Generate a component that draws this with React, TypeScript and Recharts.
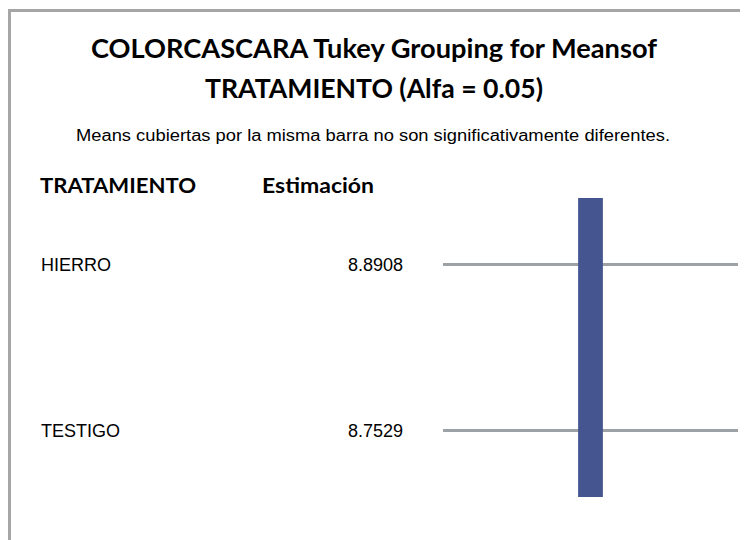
import React from "react";
import {
  ComposedChart,
  XAxis,
  YAxis,
  Line,
  ReferenceArea,
} from "recharts";

// Tukey grouping: treatments, their estimated means and the group letters
const treatments = ["HIERRO", "TESTIGO"];
const estimates = [8.8908, 8.7529];
const groups = [["HIERRO", "TESTIGO"]]; // one bar = one group of non-different means

const TITLE_1 = "COLORCASCARA Tukey Grouping for Meansof";
const TITLE_2 = "TRATAMIENTO (Alfa = 0.05)";
const SUBTITLE = "Means cubiertas por la misma barra no son significativamente diferentes.";
const HEAD_TRT = "TRATAMIENTO";
const HEAD_EST = "Estimación";

const W = 740;
const H = 532;
const ROW_PAD = 0.4; // how far the group bar reaches past its first / last row
const BAR_HALF = 0.042; // half width of the group bar, in x units

const rows = treatments.map((t, i) => ({ row: i, name: t, est: estimates[i] }));
// each row's rule runs across the whole plot (x from 0 to 1)
const ruleData = rows.map((r) => [
  { x: 0, row: r.row },
  { x: 1, row: r.row },
]);

const BOLD = "Lato, 'Open Sans', sans-serif";
const PLAIN = "'Liberation Sans', Arial, sans-serif";

function RowTick(props: any) {
  const { y, payload } = props;
  const r = rows[payload.value];
  if (!r) return null;
  return (
    <g>
      <text x={33} y={y} dy="0.35em" fontFamily={PLAIN} fontSize={18} fill="#000">
        {r.name}
      </text>
      <text x={395} y={y} dy="0.35em" textAnchor="end" fontFamily={PLAIN} fontSize={18} fill="#000">
        {r.est.toFixed(4)}
      </text>
    </g>
  );
}

export default function App() {
  return (
    <div style={{ position: "relative", width: W, height: H, background: "#fff" }}>
      <div
        style={{
          position: "absolute",
          left: 0,
          top: 1,
          width: W,
          height: H + 10,
          borderLeft: "3px solid #a6a6a6",
          borderTop: "3px solid #a6a6a6",
        }}
      />
      <ComposedChart
        width={W}
        height={H}
        data={rows}
        margin={{ top: 190, right: 10, bottom: 43, left: 0 }}
        style={{ position: "absolute", left: 0, top: 0 }}
      >
        <XAxis type="number" dataKey="x" domain={[0, 1]} hide allowDataOverflow />
        <YAxis
          type="number"
          dataKey="row"
          domain={[-ROW_PAD, treatments.length - 1 + ROW_PAD]}
          ticks={rows.map((r) => r.row)}
          reversed
          width={435}
          axisLine={false}
          tickLine={false}
          tick={<RowTick />}
          allowDataOverflow
        />
        {ruleData.map((d, i) => (
          <Line
            key={rows[i].name}
            data={d}
            dataKey="row"
            type="linear"
            stroke="#9ca2a6"
            strokeWidth={3}
            dot={false}
            activeDot={false}
            isAnimationActive={false}
          />
        ))}
        {groups.map((g, i) => {
          const idx = g.map((n) => treatments.indexOf(n));
          return (
            <ReferenceArea
              key={i}
              x1={0.5 - BAR_HALF}
              x2={0.5 + BAR_HALF}
              y1={Math.min(...idx) - ROW_PAD}
              y2={Math.max(...idx) + ROW_PAD}
              fill="#44558f"
              fillOpacity={1}
              stroke="none"
              ifOverflow="visible"
              zIndex={900}
            />
          );
        })}
      </ComposedChart>
      <svg
        width={W}
        height={H}
        style={{ position: "absolute", left: 0, top: 0, pointerEvents: "none" }}
      >
        <text x={366} y={50} textAnchor="middle" fontFamily={BOLD} fontWeight={700} fontSize={27} textLength={566} lengthAdjust="spacingAndGlyphs">
          {TITLE_1}
        </text>
        <text x={366} y={90} textAnchor="middle" fontFamily={BOLD} fontWeight={700} fontSize={27} textLength={338} lengthAdjust="spacingAndGlyphs">
          {TITLE_2}
        </text>
        <text x={365} y={133} textAnchor="middle" fontFamily={PLAIN} fontSize={16} textLength={594} lengthAdjust="spacingAndGlyphs">
          {SUBTITLE}
        </text>
        <text x={32} y={185} fontFamily={BOLD} fontWeight={700} fontSize={20} textLength={156} lengthAdjust="spacingAndGlyphs">
          {HEAD_TRT}
        </text>
        <text x={254} y={185} fontFamily={BOLD} fontWeight={700} fontSize={20} textLength={112} lengthAdjust="spacingAndGlyphs">
          {HEAD_EST}
        </text>
      </svg>
    </div>
  );
}
